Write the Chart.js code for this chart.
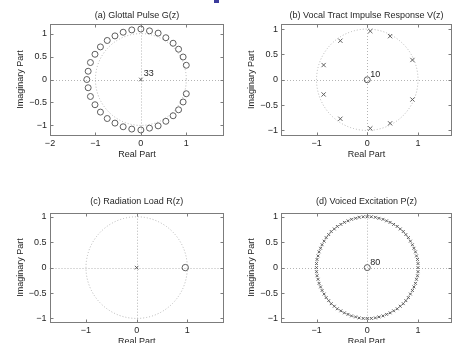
<!DOCTYPE html>
<html>
<head>
<meta charset="utf-8">
<script src="https://cdn.jsdelivr.net/npm/chart.js@4/dist/chart.umd.min.js"></script>
<style>
    html, body { margin: 0; padding: 0; background: #fff; }
    body { position: relative; width: 456px; height: 343px; overflow: hidden; }
    .panel { position: absolute; }
    .panel canvas { display: block; }
    #slideTab { position: absolute; left: 214px; top: 0; width: 5px; height: 3px; background: #3b3b9c; }
</style>
</head>
<body>
<div id="slideTab"></div>
<div class="panel" style="left:0;top:0;width:228px;height:172px"><canvas id="plotA"></canvas></div>
<div class="panel" style="left:228px;top:0;width:228px;height:172px"><canvas id="plotB"></canvas></div>
<div class="panel" style="left:0;top:172px;width:228px;height:190px"><canvas id="plotC"></canvas></div>
<div class="panel" style="left:228px;top:172px;width:228px;height:190px"><canvas id="plotD"></canvas></div>
<script>
// (a) Glottal pulse G(z): zeros [re, im], 33 poles at origin
const zerosA = [
    [1.00, 0.31], [0.93, 0.49], [0.83, 0.66], [0.71, 0.79], [0.55, 0.91], [0.38, 1.01],
    [0.19, 1.06], [0.00, 1.10], [-0.20, 1.08], [-0.39, 1.03], [-0.57, 0.95], [-0.74, 0.85],
    [-0.89, 0.71], [-1.01, 0.55], [-1.11, 0.37], [-1.16, 0.18], [-1.19, 0.00],
    [-1.16, -0.18], [-1.11, -0.37], [-1.01, -0.55], [-0.89, -0.71], [-0.74, -0.85],
    [-0.57, -0.95], [-0.39, -1.03], [-0.20, -1.08], [0.00, -1.10], [0.19, -1.06],
    [0.38, -1.01], [0.55, -0.91], [0.71, -0.79], [0.83, -0.66], [0.93, -0.49], [1.00, -0.31]
];
const polesA = [[0, 0]];
const countA = '33';

// (b) Vocal tract V(z): 10 poles, 10 zeros at origin
const polesB = [
    [0.06, 0.96], [0.45, 0.86], [0.89, 0.39], [0.89, -0.39], [0.45, -0.86],
    [0.06, -0.96], [-0.53, -0.77], [-0.86, -0.29], [-0.86, 0.29], [-0.53, 0.77]
];
const zerosB = [[0, 0]];
const countB = '10';

// (c) Radiation load R(z)
const polesC = [[0, 0]];
const zerosC = [[0.96, 0]];

// (d) Voiced excitation P(z): 80 poles, 80 zeros at origin
const polesD = [
    [1.00, 0.00], [1.00, 0.08], [0.99, 0.16], [0.97, 0.23], [0.95, 0.31], [0.92, 0.38], [0.89, 0.45], [0.85, 0.52],
    [0.81, 0.59], [0.76, 0.65], [0.71, 0.71], [0.65, 0.76], [0.59, 0.81], [0.52, 0.85], [0.45, 0.89], [0.38, 0.92],
    [0.31, 0.95], [0.23, 0.97], [0.16, 0.99], [0.08, 1.00], [0.00, 1.00], [-0.08, 1.00], [-0.16, 0.99], [-0.23, 0.97],
    [-0.31, 0.95], [-0.38, 0.92], [-0.45, 0.89], [-0.52, 0.85], [-0.59, 0.81], [-0.65, 0.76], [-0.71, 0.71], [-0.76, 0.65],
    [-0.81, 0.59], [-0.85, 0.52], [-0.89, 0.45], [-0.92, 0.38], [-0.95, 0.31], [-0.97, 0.23], [-0.99, 0.16], [-1.00, 0.08],
    [-1.00, 0.00], [-1.00, -0.08], [-0.99, -0.16], [-0.97, -0.23], [-0.95, -0.31], [-0.92, -0.38], [-0.89, -0.45], [-0.85, -0.52],
    [-0.81, -0.59], [-0.76, -0.65], [-0.71, -0.71], [-0.65, -0.76], [-0.59, -0.81], [-0.52, -0.85], [-0.45, -0.89], [-0.38, -0.92],
    [-0.31, -0.95], [-0.23, -0.97], [-0.16, -0.99], [-0.08, -1.00], [0.00, -1.00], [0.08, -1.00], [0.16, -0.99], [0.23, -0.97],
    [0.31, -0.95], [0.38, -0.92], [0.45, -0.89], [0.52, -0.85], [0.59, -0.81], [0.65, -0.76], [0.71, -0.71], [0.76, -0.65],
    [0.81, -0.59], [0.85, -0.52], [0.89, -0.45], [0.92, -0.38], [0.95, -0.31], [0.97, -0.23], [0.99, -0.16], [1.00, -0.08]
];
const zerosD = [[0, 0]];
const countD = '80';

// tick values and labels
const xTicksA = [-2, -1, 0, 1];
const xLabelsA = ['\u22122', '\u22121', '0', '1'];
const xTicks = [-1, 0, 1];
const xLabels = ['\u22121', '0', '1'];
const yTicks = [-1, -0.5, 0, 0.5, 1];
const yLabels = ['\u22121', '\u22120.5', '0', '0.5', '1'];

const FONT = 'Liberation Sans, Arial, Helvetica, sans-serif';
const TEXT = '#262626';
const MARK = '#5e5e5e';

// box, inward ticks, dotted unit circle and axes, multiplicity label
const pzFrame = {
    id: 'pzFrame',
    beforeDatasetsDraw(chart) {
        const { ctx, chartArea: a, scales: { x, y } } = chart;
        const cx = x.getPixelForValue(0), cy = y.getPixelForValue(0);
        const rx = x.getPixelForValue(1) - cx, ry = cy - y.getPixelForValue(1);
        ctx.save();
        ctx.beginPath();
        ctx.rect(a.left, a.top, a.width, a.height);
        ctx.clip();
        ctx.strokeStyle = '#b4b4b4';
        ctx.lineWidth = 1;
        ctx.setLineDash([1, 2]);
        ctx.beginPath();
        ctx.moveTo(a.left, Math.round(cy) + 0.5);
        ctx.lineTo(a.right, Math.round(cy) + 0.5);
        ctx.moveTo(Math.round(cx) + 0.5, a.top);
        ctx.lineTo(Math.round(cx) + 0.5, a.bottom);
        ctx.stroke();
        ctx.beginPath();
        ctx.ellipse(cx, cy, rx, ry, 0, 0, Math.PI * 2);
        ctx.stroke();
        ctx.restore();
    },
    afterDraw(chart, args, opts) {
        const { ctx, chartArea: a, scales: { x, y } } = chart;
        const l = Math.round(a.left) + 0.5, r = Math.round(a.right) - 0.5;
        const t = Math.round(a.top) + 0.5, b = Math.round(a.bottom) - 0.5;
        ctx.save();
        ctx.strokeStyle = '#7c7c7c';
        ctx.lineWidth = 1;
        ctx.strokeRect(l, t, r - l, b - t);
        ctx.beginPath();
        x.ticks.forEach(tk => {
            const px = Math.round(x.getPixelForValue(tk.value)) + 0.5;
            ctx.moveTo(px, b); ctx.lineTo(px, b - 3);
            ctx.moveTo(px, t); ctx.lineTo(px, t + 3);
        });
        y.ticks.forEach(tk => {
            const py = Math.round(y.getPixelForValue(tk.value)) + 0.5;
            ctx.moveTo(l, py); ctx.lineTo(l + 3, py);
            ctx.moveTo(r, py); ctx.lineTo(r - 3, py);
        });
        ctx.stroke();
        if (opts.label) {
            ctx.fillStyle = TEXT;
            ctx.font = '9px ' + FONT;
            ctx.textAlign = 'left';
            ctx.textBaseline = 'middle';
            ctx.fillText(opts.label, x.getPixelForValue(0) + 3, y.getPixelForValue(0) - 5.5);
        }
        ctx.restore();
    }
};

function toPoints(pairs) {
    return pairs.map(p => ({ x: p[0], y: p[1] }));
}

function markerSet(pairs, style, radius) {
    return {
        data: toPoints(pairs),
        showLine: false,
        pointStyle: style,
        pointRadius: radius,
        pointHoverRadius: radius,
        pointBorderWidth: 1,
        pointBorderColor: MARK,
        pointBackgroundColor: 'rgba(0,0,0,0)'
    };
}

function createPlot(elementId, cfg) {
    const ctx = document.getElementById(elementId).getContext('2d');
    return new Chart(ctx, {
        type: 'scatter',
        data: { datasets: cfg.datasets },
        options: {
            responsive: true,
            maintainAspectRatio: false,
            animation: false,
            events: [],
            layout: { padding: { left: 0, top: 0, right: cfg.padRight, bottom: 0 } },
            plugins: {
                legend: { display: false },
                tooltip: { enabled: false },
                title: {
                    display: true,
                    text: cfg.title,
                    fullSize: false,
                    color: TEXT,
                    font: { family: FONT, size: 9, weight: 'normal' },
                    padding: { top: cfg.titleTop, bottom: cfg.titleBottom }
                },
                pzFrame: { label: cfg.label }
            },
            scales: {
                x: {
                    type: 'linear',
                    min: cfg.xMin,
                    max: cfg.xMax,
                    grid: { display: false, drawTicks: false },
                    border: { display: false },
                    afterBuildTicks: s => { s.ticks = cfg.xTicks.map(v => ({ value: v })); },
                    afterFit: s => { s.height = cfg.xHeight; },
                    ticks: {
                        autoSkip: false, maxRotation: 0, padding: 3, color: TEXT,
                        font: { family: FONT, size: 9 },
                        callback: (v, i) => cfg.xLabels[i]
                    },
                    title: {
                        display: true, text: 'Real Part', color: TEXT,
                        font: { family: FONT, size: 9 },
                        padding: { top: 0, bottom: cfg.xTitlePad }
                    }
                },
                y: {
                    type: 'linear',
                    min: -cfg.yMax,
                    max: cfg.yMax,
                    grid: { display: false, drawTicks: false },
                    border: { display: false },
                    afterBuildTicks: s => { s.ticks = yTicks.map(v => ({ value: v })); },
                    afterFit: s => { s.width = cfg.yWidth; },
                    ticks: {
                        autoSkip: false, padding: 3, color: TEXT,
                        font: { family: FONT, size: 9 },
                        callback: (v, i) => yLabels[i]
                    },
                    title: {
                        display: true, text: 'Imaginary Part', color: TEXT,
                        font: { family: FONT, size: 9 },
                        padding: { top: cfg.yTitlePad, bottom: 0 }
                    }
                }
            }
        },
        plugins: [pzFrame]
    });
}

createPlot('plotA', {
    title: '(a) Glottal Pulse G(z)',
    datasets: [markerSet(zerosA, 'circle', 3), markerSet(polesA, 'crossRot', 2.5)],
    label: countA,
    xMin: -2, xMax: 1.83, yMax: 1.22,
    xTicks: xTicksA, xLabels: xLabelsA,
    padRight: 2.5, yWidth: 50, xHeight: 36.5,
    titleTop: 10.3, titleBottom: 2.4, xTitlePad: 11.6, yTitlePad: 14.9
});

createPlot('plotB', {
    title: '(b) Vocal Tract Impulse Response V(z)',
    datasets: [markerSet(polesB, 'crossRot', 3), markerSet(zerosB, 'circle', 3)],
    label: countB,
    xMin: -1.7, xMax: 1.67, yMax: 1.1,
    xTicks: xTicks, xLabels: xLabels,
    padRight: 1, yWidth: 53, xHeight: 36.5,
    titleTop: 10.3, titleBottom: 2.9, xTitlePad: 11.6, yTitlePad: 18.6
});

createPlot('plotC', {
    title: '(c) Radiation Load R(z)',
    datasets: [markerSet(polesC, 'crossRot', 2.5), markerSet(zerosC, 'circle', 3.2)],
    label: '',
    xMin: -1.72, xMax: 1.72, yMax: 1.08,
    xTicks: xTicks, xLabels: xLabels,
    padRight: 2, yWidth: 49.5, xHeight: 39.5,
    titleTop: 24.6, titleBottom: 5.3, xTitlePad: 14.8, yTitlePad: 15.3
});

createPlot('plotD', {
    title: '(d) Voiced Excitation P(z)',
    datasets: [markerSet(polesD, 'crossRot', 2), markerSet(zerosD, 'circle', 3)],
    label: countD,
    xMin: -1.7, xMax: 1.67, yMax: 1.08,
    xTicks: xTicks, xLabels: xLabels,
    padRight: 1, yWidth: 53, xHeight: 39.5,
    titleTop: 24.6, titleBottom: 5.3, xTitlePad: 14.8, yTitlePad: 17.9
});
</script>
</body>
</html>
